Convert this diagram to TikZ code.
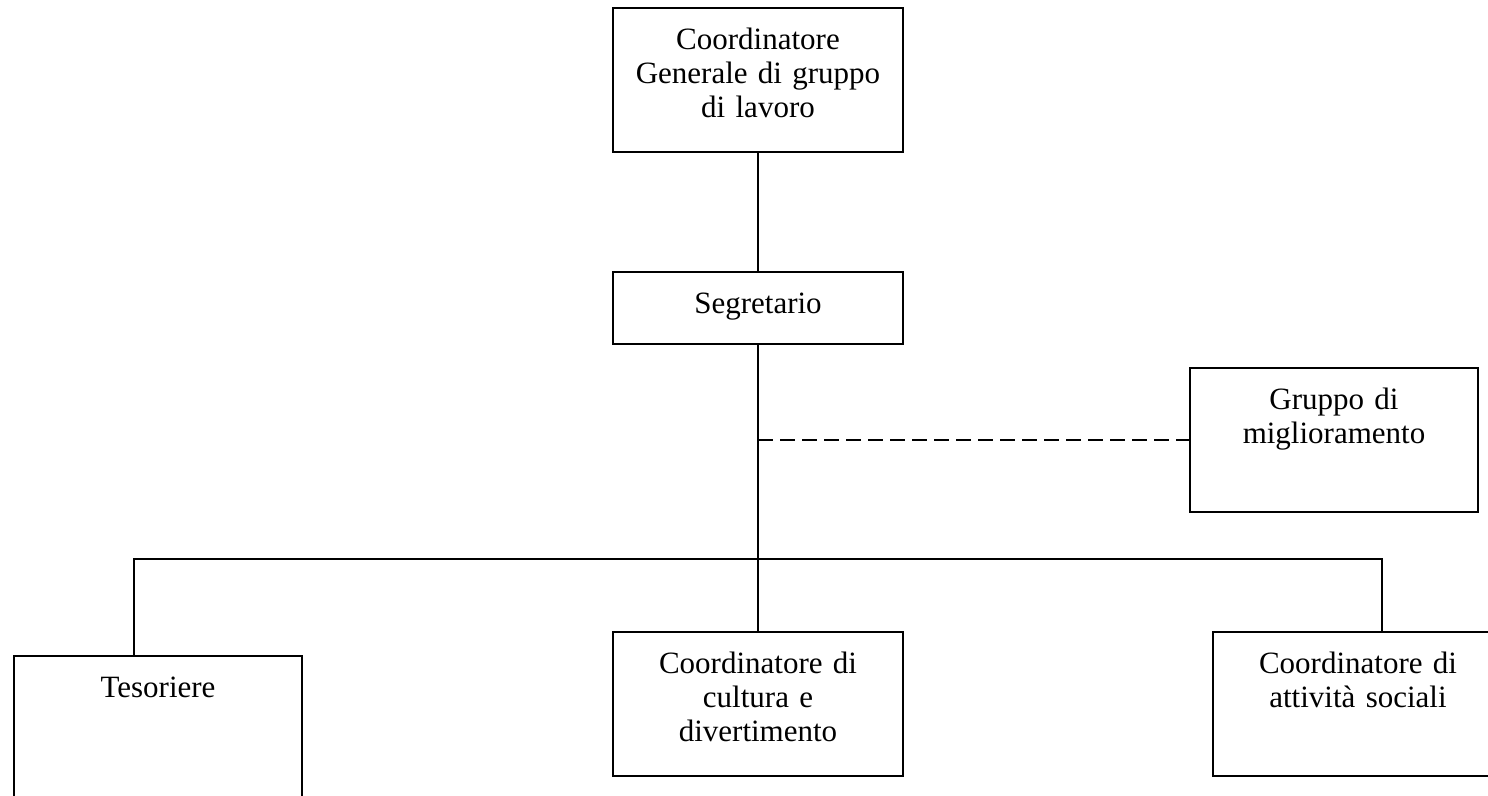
\documentclass[tikz,border=0pt]{standalone}
\usepackage{fontspec}
\setmainfont{Liberation Serif}
\usepackage{tikz}

\begin{document}
\begin{tikzpicture}[x=1pt, y=-1pt, line width=2pt,
      every node/.append style={font=\fontsize{31}{34}\selectfont}]
    \tikzstyle{unit} = [draw, inner sep=0pt, align=center, anchor=north, text width=275pt,
      minimum width=290pt, text height=41pt, text depth=103pt]
    \tikzstyle{link} = [dash pattern=on 15pt off 7pt]
    \useasboundingbox (0,0) rectangle (1488,795);
    % boxes
    \node [unit] (coord) at (758,7) {Coordinatore\\Generale di gruppo\\di lavoro};
    \node [unit, text depth=31pt] (seg) at (758,271) {Segretario};
    \node [unit, minimum width=288pt] (grp) at (1334,367) {Gruppo di\\miglioramento};
    \node [unit, minimum width=288pt] (tes) at (158,655) {Tesoriere};
    \node [unit] (cult) at (758,631) {Coordinatore di\\cultura e\\divertimento};
    \node [unit] (soc) at (1358,631) {Coordinatore di\\attivit\`a sociali};
    % bus
    \coordinate (busL) at (134,559);
    \coordinate (busR) at (1382,559);
    \draw (coord.south) -- (seg.north);
    \draw (seg.south) -- (cult.north);
    \draw (busL |- tes.north) -- (busL) -- (busR) -- (busR |- soc.north);
    \draw [link] (seg.south |- grp.west) -- (grp.west);
  \end{tikzpicture}
\end{document}
